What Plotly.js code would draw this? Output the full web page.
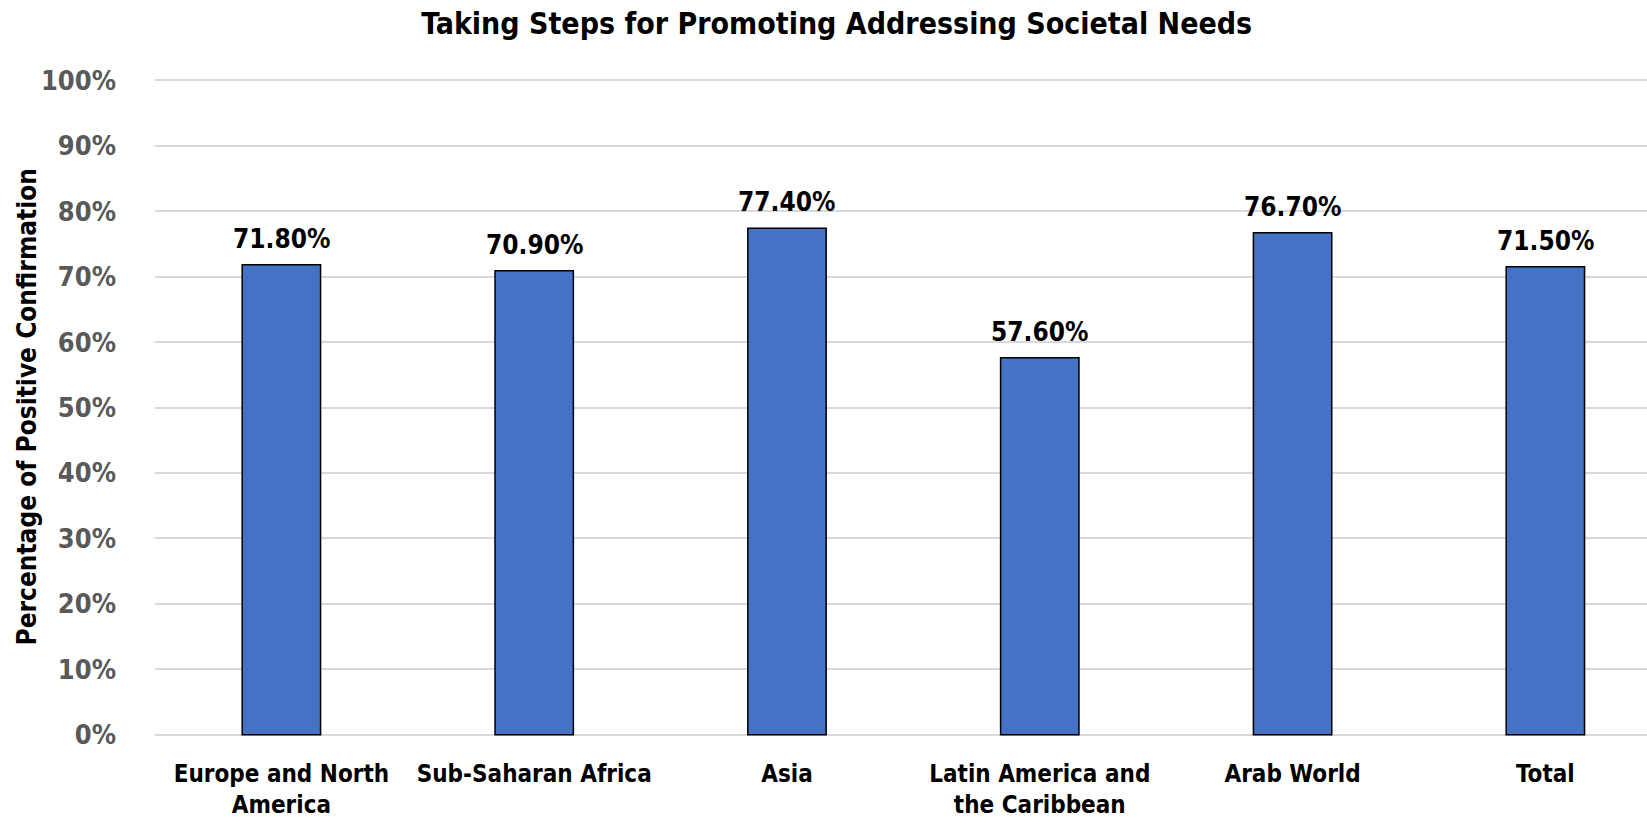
<!DOCTYPE html>
<html>
<head>
<meta charset="utf-8">
<script src="https://cdn.plot.ly/plotly-3.0.1.min.js"></script>
<style>html,body{margin:0;padding:0;background:#fff;}#chart{width:1647px;height:823px;}</style>
</head>
<body>
<div id="chart"></div>
<script>
const categories = ["Europe and North<br>America", "Sub-Saharan Africa", "Asia", "Latin America and<br>the Caribbean", "Arab World", "Total"];
const values = [71.8, 70.9, 77.4, 57.6, 76.7, 71.5];
const valueLabels = ["71.80%", "70.90%", "77.40%", "57.60%", "76.70%", "71.50%"];
const tickValues = [0, 10, 20, 30, 40, 50, 60, 70, 80, 90, 100];
const tickLabels = ["0%", "10%", "20%", "30%", "40%", "50%", "60%", "70%", "80%", "90%", "100%"];

const FONT = "'DejaVu Sans Condensed', 'Liberation Sans Narrow', sans-serif";

const trace = {
  type: 'bar',
  x: categories,
  y: values,
  marker: {color: '#4472C4', line: {color: '#000000', width: 1.5}},
  hoverinfo: 'none'
};

const annotations = categories.map((c, i) => ({
  x: c, y: values[i], xref: 'x', yref: 'y',
  text: '<b>' + valueLabels[i] + '</b>',
  showarrow: false, yanchor: 'bottom', yshift: 9,
  font: {family: FONT, size: 26, color: '#000000'}
}));
annotations.push({
  xref: 'paper', yref: 'paper', x: 0, y: 0.5, xanchor: 'center', yanchor: 'middle',
  xshift: -129, textangle: -90, showarrow: false,
  text: '<b>Percentage of Positive Confirmation</b>',
  font: {family: FONT, size: 26, color: '#000000'}
});

const layout = {
  width: 1647, height: 823,
  margin: {l: 155, r: 0, t: 77, b: 85},
  paper_bgcolor: '#ffffff', plot_bgcolor: '#ffffff',
  bargap: 0.69,
  showlegend: false,
  title: {text: '<b>Taking Steps for Promoting Addressing Societal Needs</b>', x: 0.508, xref: 'container', xanchor: 'center', y: 0.972, yanchor: 'middle',
          font: {family: FONT, size: 30, color: '#000000'}},
  xaxis: {
    type: 'category',
    range: [-0.5, 5.402],
    tickfont: {family: FONT, size: 24, color: '#000000', weight: 'bold'},
    showgrid: false, zeroline: false, showline: false, ticks: '',
    ticklabelstandoff: 19
  },
  yaxis: {
    range: [-0.5, 100.5],
    tickvals: tickValues, ticktext: tickLabels,
    tickfont: {family: FONT, size: 27, color: '#595959', weight: 'bold'},
    showgrid: true, gridcolor: '#D9D9D9', gridwidth: 2,
    zeroline: false, showline: false, ticks: '',
    ticklabelstandoff: 38
  },
  annotations: annotations
};

Plotly.newPlot('chart', [trace], layout, {displayModeBar: false, staticPlot: true});
</script>
</body>
</html>
